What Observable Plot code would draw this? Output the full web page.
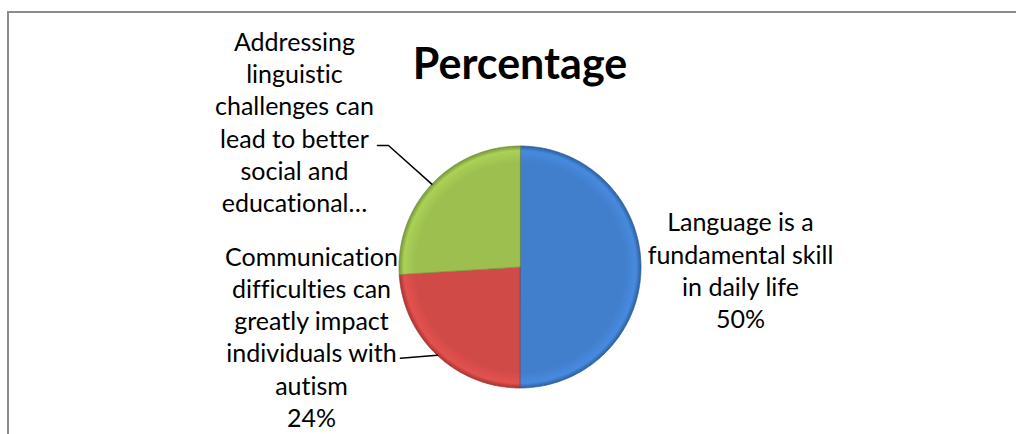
<!DOCTYPE html>
<html>
<head>
<meta charset="utf-8">
<script src="https://cdn.jsdelivr.net/npm/d3@7"></script>
<script src="https://cdn.jsdelivr.net/npm/@observablehq/plot@0.6"></script>
<style>
  html, body { margin: 0; padding: 0; overflow: hidden; width: 1016px; height: 434px; background: #fff; }
  #frame { position: absolute; left: 7px; top: 11px; width: 1100px; height: 500px;
           border-left: 2px solid #8c8c8c; border-top: 2px solid #8c8c8c; }
  #chart { position: absolute; left: 0; top: 0; }
  svg text { font-variant-ligatures: none; font-feature-settings: "liga" 0, "clig" 0; }
</style>
</head>
<body>
<div id="frame"></div>
<div id="chart"></div>
<script>
// ---- data ----
const title = "Percentage";
const categories = [
  "Language is a fundamental skill in daily life",
  "Communication difficulties can greatly impact individuals with autism",
  "Addressing linguistic challenges can lead to better social and educational outcomes"
];
const values = [50, 24, 26];
const labelTexts = [
  "Language is a\nfundamental skill\nin daily life\n50%",
  "Communication\ndifficulties can\ngreatly impact\nindividuals with\nautism\n24%",
  "Addressing\nlinguistic\nchallenges can\nlead to better\nsocial and\neducational…"
];
const baseColors = ["#417ECB", "#D04A47", "#9CBF4F"];
const edgeColors = ["#2D5F9E", "#A53532", "#76953A"];

// ---- layout (in pie-radius units, y up) ----
const labelPos = [[1.822, -0.02], [-1.723, -0.57], [-1.864, 1.205]];
const leaderStart = [null, [[-0.988, -0.755]], [[-1.178, 1.004], [-1.087, 1.004]]];
const R = 121, cx = 519.5, cy = 266.5, W = 1016, H = 434;

// ---- geometry from data ----
const pie = d3.pie().sort(null).startAngle(0).endAngle(2 * Math.PI)(values);
const polar = (a, r = 1) => [r * Math.sin(a), r * Math.cos(a)];
const slices = pie.map((p, i) => {
  const pts = [{x: 0, y: 0, k: i}];
  const n = Math.max(2, Math.ceil((p.endAngle - p.startAngle) / (Math.PI / 180)));
  for (let j = 0; j <= n; j++) {
    const a = p.startAngle + (p.endAngle - p.startAngle) * j / n;
    const [x, y] = polar(a);
    pts.push({x, y, k: i});
  }
  return pts;
});
const leaders = [];
pie.forEach((p, i) => {
  if (!leaderStart[i]) return;
  const mid = (p.startAngle + p.endAngle) / 2;
  const [ex, ey] = polar(mid);
  leaderStart[i].forEach(([x, y]) => leaders.push({x, y, k: i}));
  leaders.push({x: ex, y: ey, k: i});
});
const labels = labelTexts.map((t, i) => ({x: labelPos[i][0], y: labelPos[i][1], text: t}));

const font = "Lato, 'Open Sans', sans-serif";

const chart = Plot.plot({
  width: W, height: H, margin: 0,
  style: {fontFamily: font, background: "transparent", overflow: "visible"},
  x: {domain: [-cx / R, (W - cx) / R], axis: null},
  y: {domain: [-(H - cy) / R, cy / R], axis: null},
  marks: [
    ...slices.map((s, i) => Plot.line(s, {
      x: "x", y: "y", curve: "linear-closed",
      fill: `url(#grad${i})`, stroke: edgeColors[i], strokeWidth: 1, strokeOpacity: 0.7
    })),
    Plot.line(leaders, {x: "x", y: "y", z: "k", stroke: "#000", strokeWidth: 1.5}),
    Plot.text(labels, {
      x: "x", y: "y", text: "text", fontSize: 25, lineHeight: 1.29,
      fill: "#000", fontFamily: font, lineAnchor: "middle"
    }),
    Plot.text([title], {
      x: 0, y: (cy - 78) / R, text: d => d, fontSize: 43, fontWeight: "bold",
      fill: "#000", fontFamily: font, lineAnchor: "bottom"
    })
  ]
});

// radial gradients for the bevelled look
const sx = chart.scale("x"), sy = chart.scale("y");
const px = sx.apply(0), py = sy.apply(0);
const svg = d3.select(chart);
const defs = svg.insert("defs", ":first-child");
baseColors.forEach((c, i) => {
  const g = defs.append("radialGradient").attr("id", `grad${i}`)
    .attr("gradientUnits", "userSpaceOnUse")
    .attr("cx", px).attr("cy", py).attr("r", R);
  g.append("stop").attr("offset", "0%").attr("stop-color", c);
  g.append("stop").attr("offset", "86%").attr("stop-color", c);
  g.append("stop").attr("offset", "96%").attr("stop-color", d3.color(c).brighter(0.25));
  g.append("stop").attr("offset", "100%").attr("stop-color", edgeColors[i]);
});

document.getElementById("chart").appendChild(chart);
</script>
</body>
</html>
